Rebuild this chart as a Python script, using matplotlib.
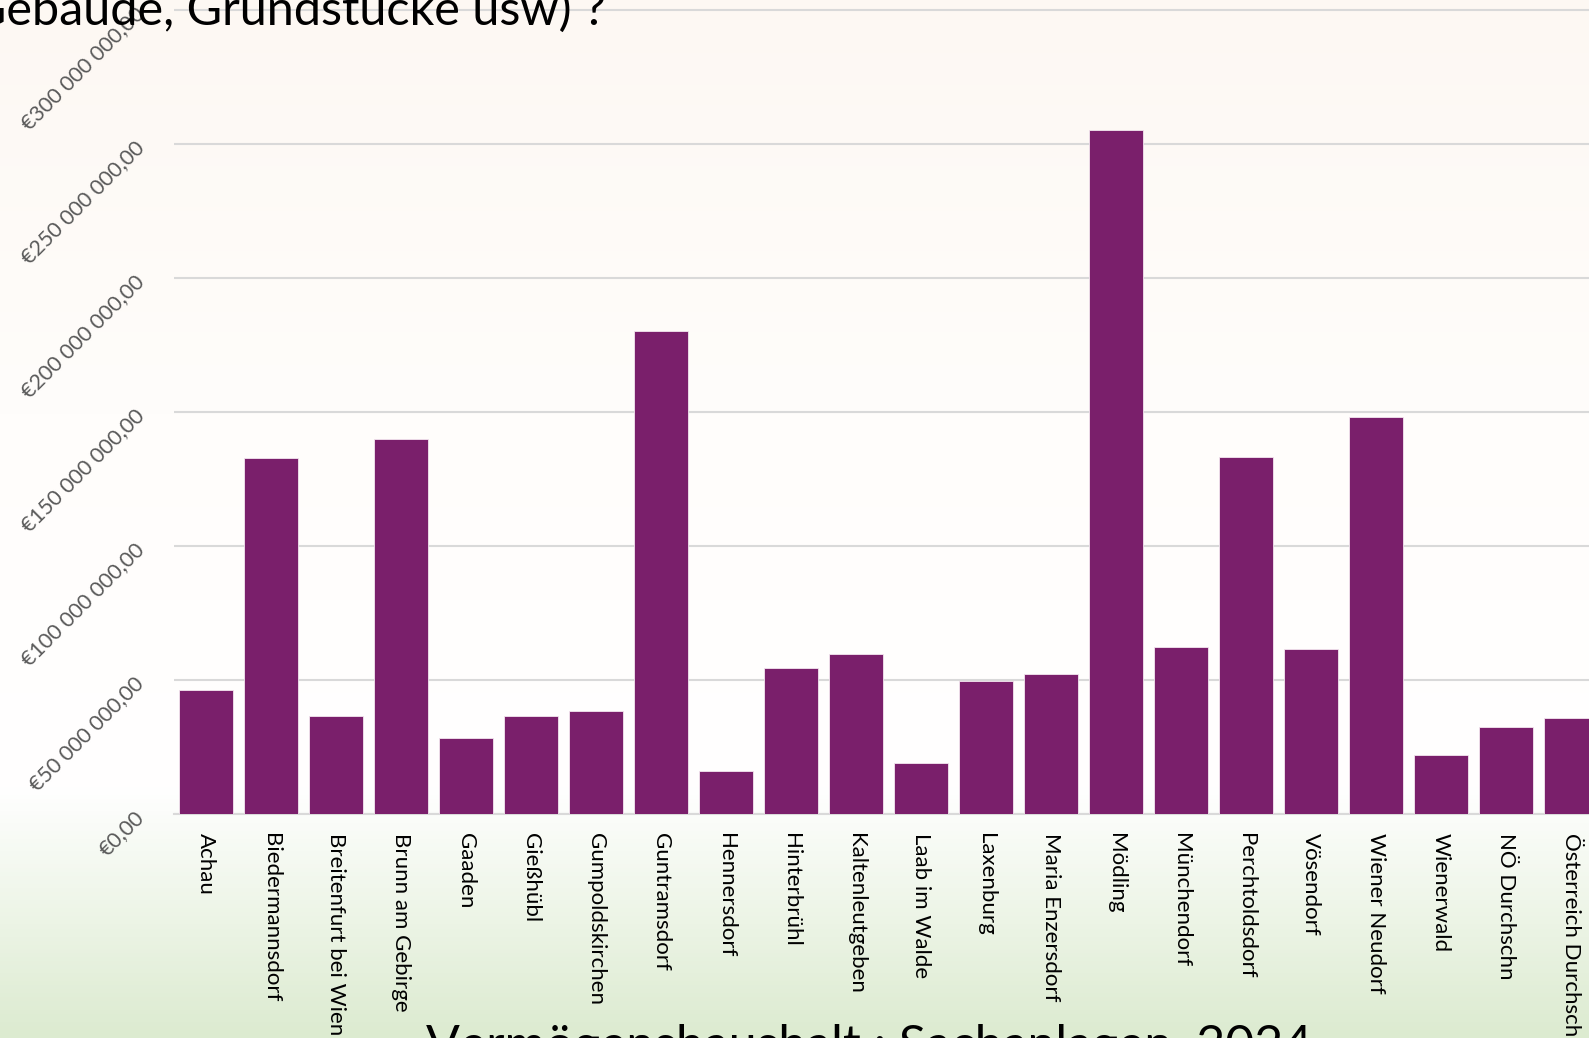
"""Vermögenshaushalt: Sachanlagen 2024 je Gemeinde (Bezirk Mödling)."""

import matplotlib
matplotlib.use("Agg")
import matplotlib.pyplot as plt
import numpy as np
from matplotlib.colors import LinearSegmentedColormap
from matplotlib.ticker import FuncFormatter

plt.rcParams["font.family"] = ["Lato", "DejaVu Sans"]

gemeinden = [
    "Achau", "Biedermannsdorf", "Breitenfurt bei Wien", "Brunn am Gebirge",
    "Gaaden", "Gießhübl", "Gumpoldskirchen", "Guntramsdorf", "Hennersdorf",
    "Hinterbrühl", "Kaltenleutgeben", "Laab im Walde", "Laxenburg",
    "Maria Enzersdorf", "Mödling", "Münchendorf", "Perchtoldsdorf",
    "Vösendorf", "Wiener Neudorf", "Wienerwald", "NÖ Durchschn",
    "Österreich Durchschn",
]
# Sachanlagen in Euro
sachanlagen = [
    46.2e6, 133.0e6, 36.4e6, 139.8e6, 28.4e6, 36.7e6, 38.6e6, 180.3e6,
    15.9e6, 54.5e6, 59.8e6, 18.9e6, 49.6e6, 52.3e6, 255.2e6, 62.5e6,
    133.3e6, 61.7e6, 148.1e6, 22.0e6, 32.6e6, 36.0e6,
]
y_ticks = [0, 50e6, 100e6, 150e6, 200e6, 250e6, 300e6]

titel_oben = "(Gebäude, Grundstücke usw) ?"
titel_unten = "Vermögenshaushalt : Sachanlagen, 2024"

W, H = 1589, 1038
fig = plt.figure(figsize=(W / 100, H / 100), dpi=100)

# slide background: peach on top, white in the middle, pale green at the bottom
bg = fig.add_axes([0, 0, 1, 1], zorder=-10)
stops = [
    (0.0, (253 / 255, 248 / 255, 243 / 255)),
    (0.40, (255 / 255, 253 / 255, 251 / 255)),
    (0.76, (1.0, 1.0, 1.0)),
    (1.0, (220 / 255, 235 / 255, 208 / 255)),
]
cmap = LinearSegmentedColormap.from_list("slide", stops)
bg.imshow(np.linspace(0, 1, 256).reshape(-1, 1), aspect="auto", cmap=cmap,
          extent=[0, 1, 0, 1])
bg.set_axis_off()

# axes: left edge at x=174px, baseline at y=814px, right side runs off the slide
left, bottom = 174 / W, (H - 814) / H
ax = fig.add_axes([left, bottom, 1 - left, 1 - bottom])
ax.patch.set_alpha(0)

x = np.arange(len(gemeinden))
ax.bar(x, sachanlagen, width=0.83, color="#7A1F6B", edgecolor="#F3E6EF",
       linewidth=0.6, zorder=3)

ax.set_xlim(-0.49, 21.28)
ax.set_ylim(0, 300e6 + 10 / 134 * 50e6)
ax.set_yticks(y_ticks)
ax.yaxis.set_major_formatter(FuncFormatter(
    lambda v, _: "€" + f"{v:,.2f}".replace(",", " ").replace(".", ",")))
ax.grid(axis="y", color="#D9D9D9", linewidth=1.5, zorder=0)
ax.set_axisbelow(True)

for side in ["top", "right", "left"]:
    ax.spines[side].set_visible(False)
ax.spines["bottom"].set_color("#D9D9D9")
ax.spines["bottom"].set_linewidth(1.5)

ax.tick_params(axis="both", length=0)
ax.set_xticks(x)
ax.set_xticklabels(gemeinden, rotation=-90, fontsize=16, va="top", ha="center")
ax.tick_params(axis="x", pad=14)
for lbl in ax.get_yticklabels():
    lbl.set_rotation(45)
    lbl.set_rotation_mode("anchor")
    lbl.set_ha("right")
    lbl.set_va("center")
    lbl.set_fontsize(15.5)
    lbl.set_color("#595959")
ax.tick_params(axis="y", pad=24)

fig.text(606 / W, 1 - 25 / H, titel_oben, ha="right", va="baseline",
         fontsize=35, color="black")
fig.text(869 / W, (H - 1060) / H, titel_unten, ha="center", va="baseline",
         fontsize=36, color="black")

fig.savefig("out.png", dpi=100)
